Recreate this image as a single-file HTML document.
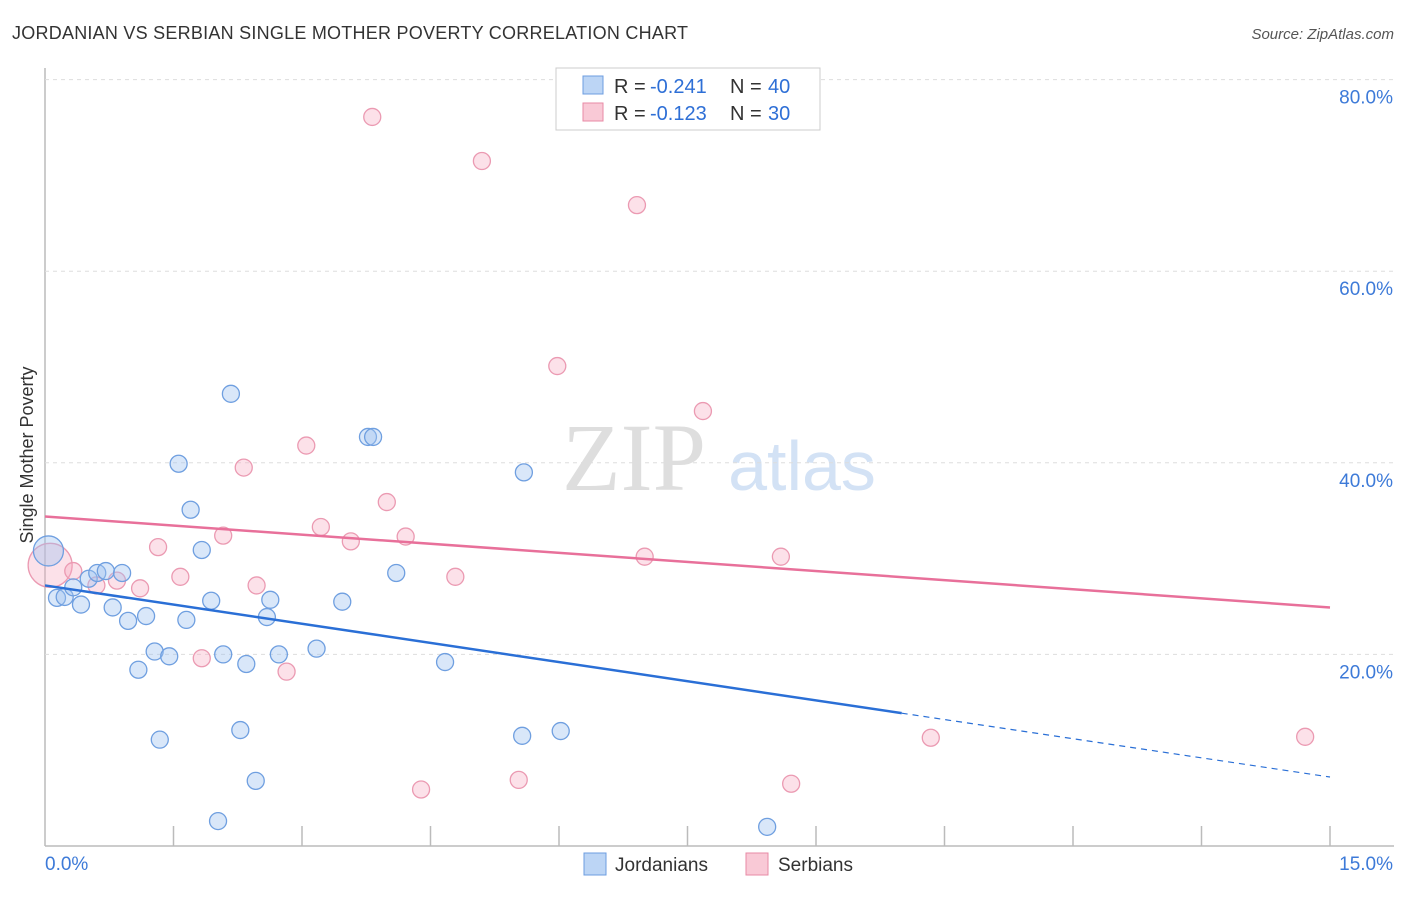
<!DOCTYPE html>
<html><head><meta charset="utf-8"><style>
body{margin:0;background:#fff;font-family:"Liberation Sans",sans-serif}
</style></head><body>
<svg width="1406" height="892" xmlns="http://www.w3.org/2000/svg" id="chart">
<text x="12" y="39" font-size="18" fill="#333" textLength="676">JORDANIAN VS SERBIAN SINGLE MOTHER POVERTY CORRELATION CHART</text>
<text x="1394" y="39" font-size="15" fill="#555" font-style="italic" text-anchor="end">Source: ZipAtlas.com</text>
<text x="634" y="490" font-size="96" fill="#dedede" font-family="Liberation Serif" text-anchor="middle">ZIP</text>
<text x="802" y="490" font-size="70" fill="#d3e2f5" text-anchor="middle">atlas</text>
<text x="33" y="455" font-size="18" fill="#333" text-anchor="middle" transform="rotate(-90 33 455)">Single Mother Poverty</text>
<g id="grid"></g><g id="marks"></g><g id="lines"></g>
<g>
<rect x="556" y="68" width="264" height="62" fill="#fff" stroke="#ccc"/>
<rect x="583" y="76" width="20" height="18" fill="#bcd5f5" stroke="#6c9de0"/>
<text y="93" font-size="20" fill="#333"><tspan x="614">R =</tspan><tspan x="650" fill="#2e6fd6">-0.241</tspan><tspan x="730">N =</tspan><tspan x="768" fill="#2e6fd6">40</tspan></text>
<rect x="583" y="103" width="20" height="18" fill="#f9c9d6" stroke="#e88aa5"/>
<text y="120" font-size="20" fill="#333"><tspan x="614">R =</tspan><tspan x="650" fill="#2e6fd6">-0.123</tspan><tspan x="730">N =</tspan><tspan x="768" fill="#2e6fd6">30</tspan></text>
</g>
<g>
<rect x="584" y="853" width="22" height="22" fill="#bcd5f5" stroke="#6c9de0"/>
<text x="615" y="871" font-size="19" fill="#333">Jordanians</text>
<rect x="746" y="853" width="22" height="22" fill="#f9c9d6" stroke="#e88aa5"/>
<text x="778" y="871" font-size="19" fill="#333">Serbians</text>
</g>
</svg>
<script>
const yTicks=[20,40,60,80];
const yTickLabels=["20.0%","40.0%","60.0%","80.0%"];
const xTickCount=11;
const jordX=[0.04,0.14,0.23,0.33,0.42,0.51,0.61,0.71,0.79,0.90,0.97,1.18,1.28,1.45,1.09,1.34,1.56,1.70,1.83,1.94,1.65,2.08,2.17,2.35,2.28,2.46,2.02,2.63,2.59,2.73,3.17,3.47,3.77,3.83,4.10,4.67,5.59,5.57,6.02,8.43];
const jordY=[30.8,25.9,26.0,27.0,25.2,27.9,28.5,28.7,24.9,28.5,23.5,24.0,20.3,19.8,18.4,11.1,39.9,35.1,30.9,25.6,23.6,20.0,47.2,19.0,12.1,6.8,2.6,25.7,23.9,20.0,20.6,25.5,42.7,42.7,28.5,19.2,39.0,11.5,12.0,2.0];
const serbX=[0.06,0.33,0.60,0.84,1.11,1.32,1.58,1.83,2.08,2.32,2.47,2.82,3.05,3.22,3.57,3.82,3.99,4.21,4.39,4.79,5.10,5.53,5.98,6.91,7.00,7.68,8.59,8.71,10.34,14.71];
const serbY=[29.3,28.7,27.2,27.7,26.9,31.2,28.1,19.6,32.4,39.5,27.2,18.2,41.8,33.3,31.8,76.1,35.9,32.3,5.9,28.1,71.5,6.9,50.1,66.9,30.2,45.4,30.2,6.5,11.3,11.4];
const jordTrend=[27.2,7.2], jordSolidEnd=10.0;
const serbTrend=[34.4,24.9];
const NS="http://www.w3.org/2000/svg";
const X=v=>45+v*1285/15, Y=v=>846-v*9.58;
function mk(t,a,p){const e=document.createElementNS(NS,t);for(const k in a)e.setAttribute(k,a[k]);document.getElementById(p).appendChild(e);return e;}
let e;
e=mk('line',{x1:45,y1:68,x2:45,y2:846,stroke:'#bbb','stroke-width':1.5},'grid');


e=mk('line',{x1:45,y1:846,x2:1394,y2:846,stroke:'#bbb','stroke-width':1.5},'grid');


yTicks.forEach((t,i)=>{
 e=mk('line',{x1:45,y1:Y(t),x2:1394,y2:Y(t),stroke:'#ddd','stroke-dasharray':'4,4'},'grid');
 
 
 e=mk('text',{x:1393,y:Y(t)+24,'font-size':19,fill:'#3d7ad8','text-anchor':'end'},'grid');
 e.textContent=yTickLabels[i];
 
 
});
for(let i=1;i<xTickCount;i++){
 e=mk('line',{x1:X(i*1.5),y1:826,x2:X(i*1.5),y2:846,stroke:'#bbb','stroke-width':1.5},'grid');
 
 
}
e=mk('text',{x:45,y:870,'font-size':19,fill:'#3d7ad8'},'grid');e.textContent='0.0%';


e=mk('text',{x:1393,y:870,'font-size':19,fill:'#3d7ad8','text-anchor':'end'},'grid');e.textContent='15.0%';


serbX.forEach((x,i)=>{
 e=mk('circle',{cx:X(x),cy:Y(serbY[i]),r:i==0?22:8.5,fill:'rgba(246,170,192,0.35)',stroke:'#eb9ab2','stroke-width':1.3},'marks');
 
 
});
jordX.forEach((x,i)=>{
 e=mk('circle',{cx:X(x),cy:Y(jordY[i]),r:i==0?15:8.5,fill:'rgba(160,196,240,0.4)',stroke:'#6f9fe0','stroke-width':1.3},'marks');
 
 
});
const jy=x=>jordTrend[0]+(jordTrend[1]-jordTrend[0])*x/15;
e=mk('line',{x1:X(0),y1:Y(jy(0)),x2:X(jordSolidEnd),y2:Y(jy(jordSolidEnd)),stroke:'#2a6fd6','stroke-width':2.5},'lines');


e=mk('line',{x1:X(jordSolidEnd),y1:Y(jy(jordSolidEnd)),x2:X(15),y2:Y(jy(15)),stroke:'#2a6fd6','stroke-width':1.2,'stroke-dasharray':'6,5'},'lines');


e=mk('line',{x1:X(0),y1:Y(serbTrend[0]),x2:X(15),y2:Y(serbTrend[1]),stroke:'#e8709a','stroke-width':2.5},'lines');


</script>
</body></html>
